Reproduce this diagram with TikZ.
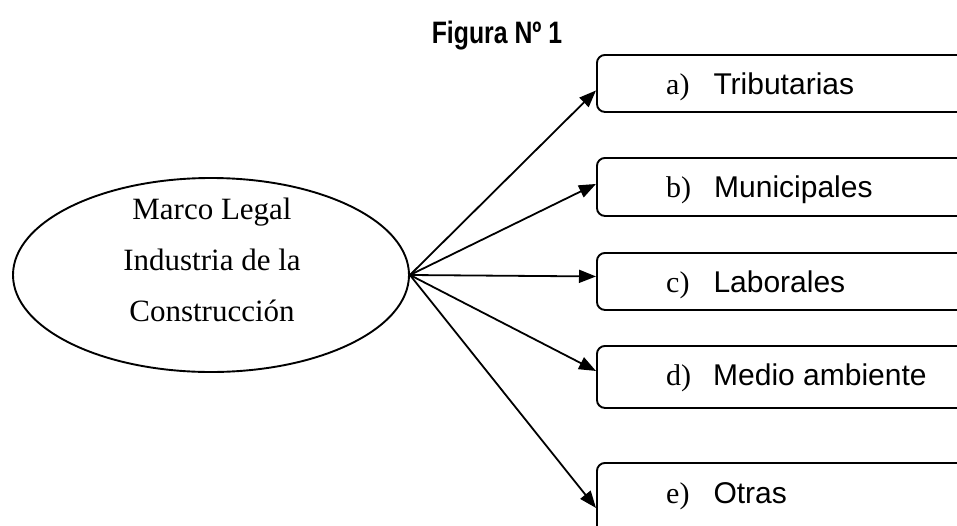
\documentclass[tikz,border=0pt]{standalone}
\usepackage{fontspec}
\setmainfont{Liberation Sans}
\newfontfamily\serifrm{Liberation Serif}
\usetikzlibrary{shapes.geometric,arrows.meta}
\tikzset{
  boxnode/.style={draw, line width=1.9pt, rounded corners=8pt, minimum width=420pt, anchor=north west, inner sep=0pt},
  lbl/.style={anchor=base west, inner sep=0pt, font=\fontsize{30}{34}\selectfont},
  conn/.style={line width=1.8pt, -{Triangle[length=17pt,width=13pt]}},
}
\begin{document}
\begin{tikzpicture}[x=1pt,y=-1pt]
\useasboundingbox (0,0) rectangle (957,525);
\begin{scope}
\clip (0,0) rectangle (957,525);
\node[font=\bfseries\fontsize{31}{36}\selectfont, xscale=0.8, anchor=base] (title) at (497,43) {Figura Nº 1};
\node[draw, ellipse, line width=1.9pt, minimum width=396pt, minimum height=194pt, inner sep=0pt] (ell) at (211,275) {};
\node[align=center, font=\serifrm\fontsize{31}{51}\selectfont, inner sep=0pt, anchor=base] (etxt) at (212,321) {Marco Legal\\Industria de la\\Construcción};
\node[boxnode, minimum height=57pt] (ba) at (596,54) {};
\node[boxnode, minimum height=58pt] (bb) at (596,157) {};
\node[boxnode, minimum height=57pt] (bc) at (596,252) {};
\node[boxnode, minimum height=62pt] (bd) at (596,345) {};
\node[boxnode, minimum height=80pt] (be) at (596,462) {};
\node[lbl] (la) at (666,94) {{\serifrm a)}\hspace{24pt}Tributarias};
\node[lbl] (lb) at (666,197) {{\serifrm b)}\hspace{23pt}Municipales};
\node[lbl] (lc) at (666,292) {{\serifrm c)}\hspace{24pt}Laborales};
\node[lbl] (ld) at (666,385) {{\serifrm d)}\hspace{22pt}Medio ambiente};
\node[lbl] (le) at (666,503) {{\serifrm e)}\hspace{24pt}Otras};
\draw[conn] (ell.east) -- ([yshift=-7pt]ba.west);
\draw[conn] (ell.east) -- ([yshift=3pt]bb.west);
\draw[conn] (ell.east) -- ([yshift=5pt]bc.west);
\draw[conn] (ell.east) -- ([yshift=6pt]bd.west);
\draw[conn] (ell.east) -- ([yshift=-5pt]be.west);
\end{scope}
\end{tikzpicture}
\end{document}
